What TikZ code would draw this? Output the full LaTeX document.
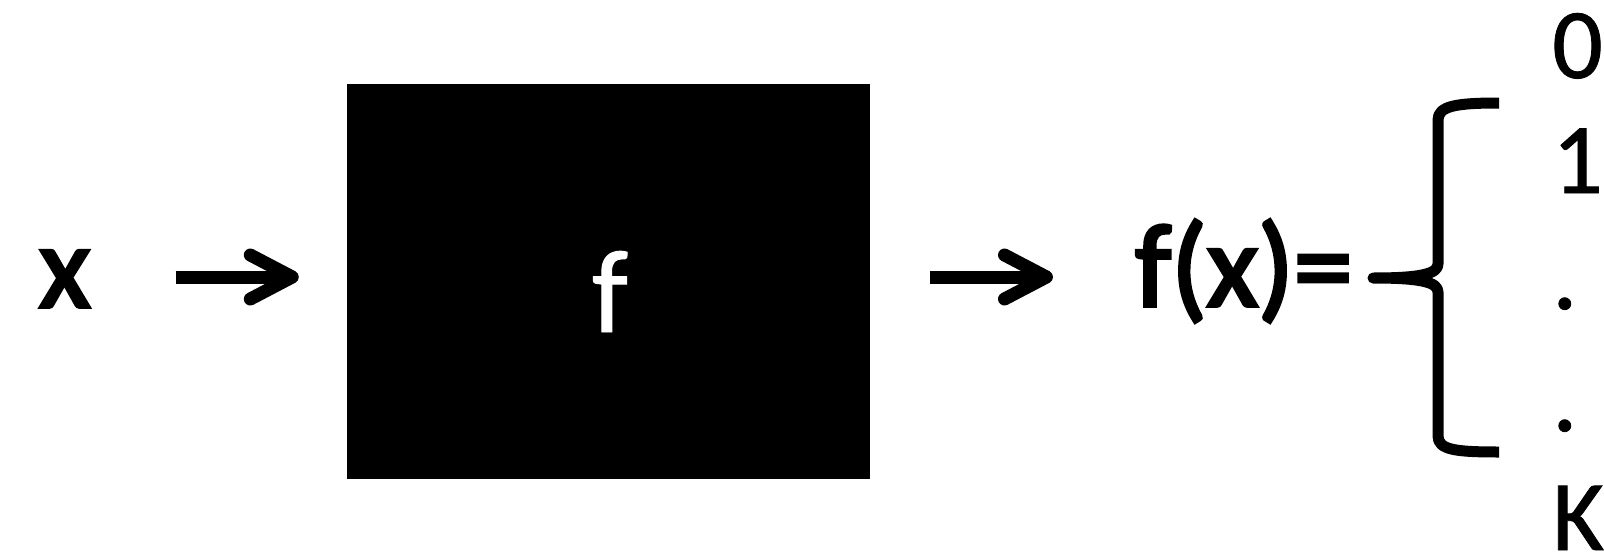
\documentclass[tikz,border=0pt]{standalone}
\usepackage{fontspec}
\setmainfont{Carlito}
\newfontfamily\heavyfont{Carlito}[FakeBold=3]
\newfontfamily\plainfont{Carlito}[FakeBold=0.8]
\usetikzlibrary{arrows.meta}
\begin{document}
\begin{tikzpicture}[x=1pt,y=-1pt,
  big/.style={inner sep=0pt, font=\plainfont\fontsize{118}{118}\selectfont},
  bigbold/.style={inner sep=0pt, font=\heavyfont\fontsize{118}{118}\selectfont},
  val/.style={inner sep=0pt, anchor=base west, font=\plainfont\fontsize{100}{100}\selectfont},
  arr/.style={line width=13pt, -{Straight Barb[length=42pt, width=44pt, line cap=round, line join=round]}},
  bracestyle/.style={line width=11pt, line cap=butt, line join=round}]
\useasboundingbox (0,0) rectangle (1604,554);
\coordinate (mid) at (0,277);
\node[bigbold, anchor=base west] (x) at (39,307) {x};
\node[fill=black, minimum width=523pt, minimum height=395pt, inner sep=0pt] (box) at (608.5,281.5) {};
\node[big, anchor=base, text=white] (flabel) at (610,332) {f};
\node[bigbold, anchor=base west] (fx) at (1135,306) {f(x)=};
\draw[arr, shorten <=85pt, shorten >=48pt] (x.east |- mid) -- (box.west |- mid);
\draw[arr, shorten <=60pt, shorten >=82pt] (box.east |- mid) -- (fx.west |- mid);
\node[val] (v0) at (1552,78) {0};
\node[val] (v1) at (1552,193) {1};
\node[val] (v2) at (1552,309) {.};
\node[val] (v3) at (1552,431) {.};
\node[val] (vk) at (1552,550) {K};
\coordinate (bt) at (1499,103);
\coordinate (bm) at (1373,278);
\coordinate (bb) at (1499,452);
\draw[bracestyle] (bt) .. controls (1456,103) and (1438,106) .. (1438,120)
  -- (1438,264) .. controls (1438,274) and (1420,278) .. (bm)
  .. controls (1420,278) and (1438,282) .. (1438,292)
  -- (1438,436) .. controls (1438,450) and (1456,452) .. (bb);
\end{tikzpicture}
\end{document}
